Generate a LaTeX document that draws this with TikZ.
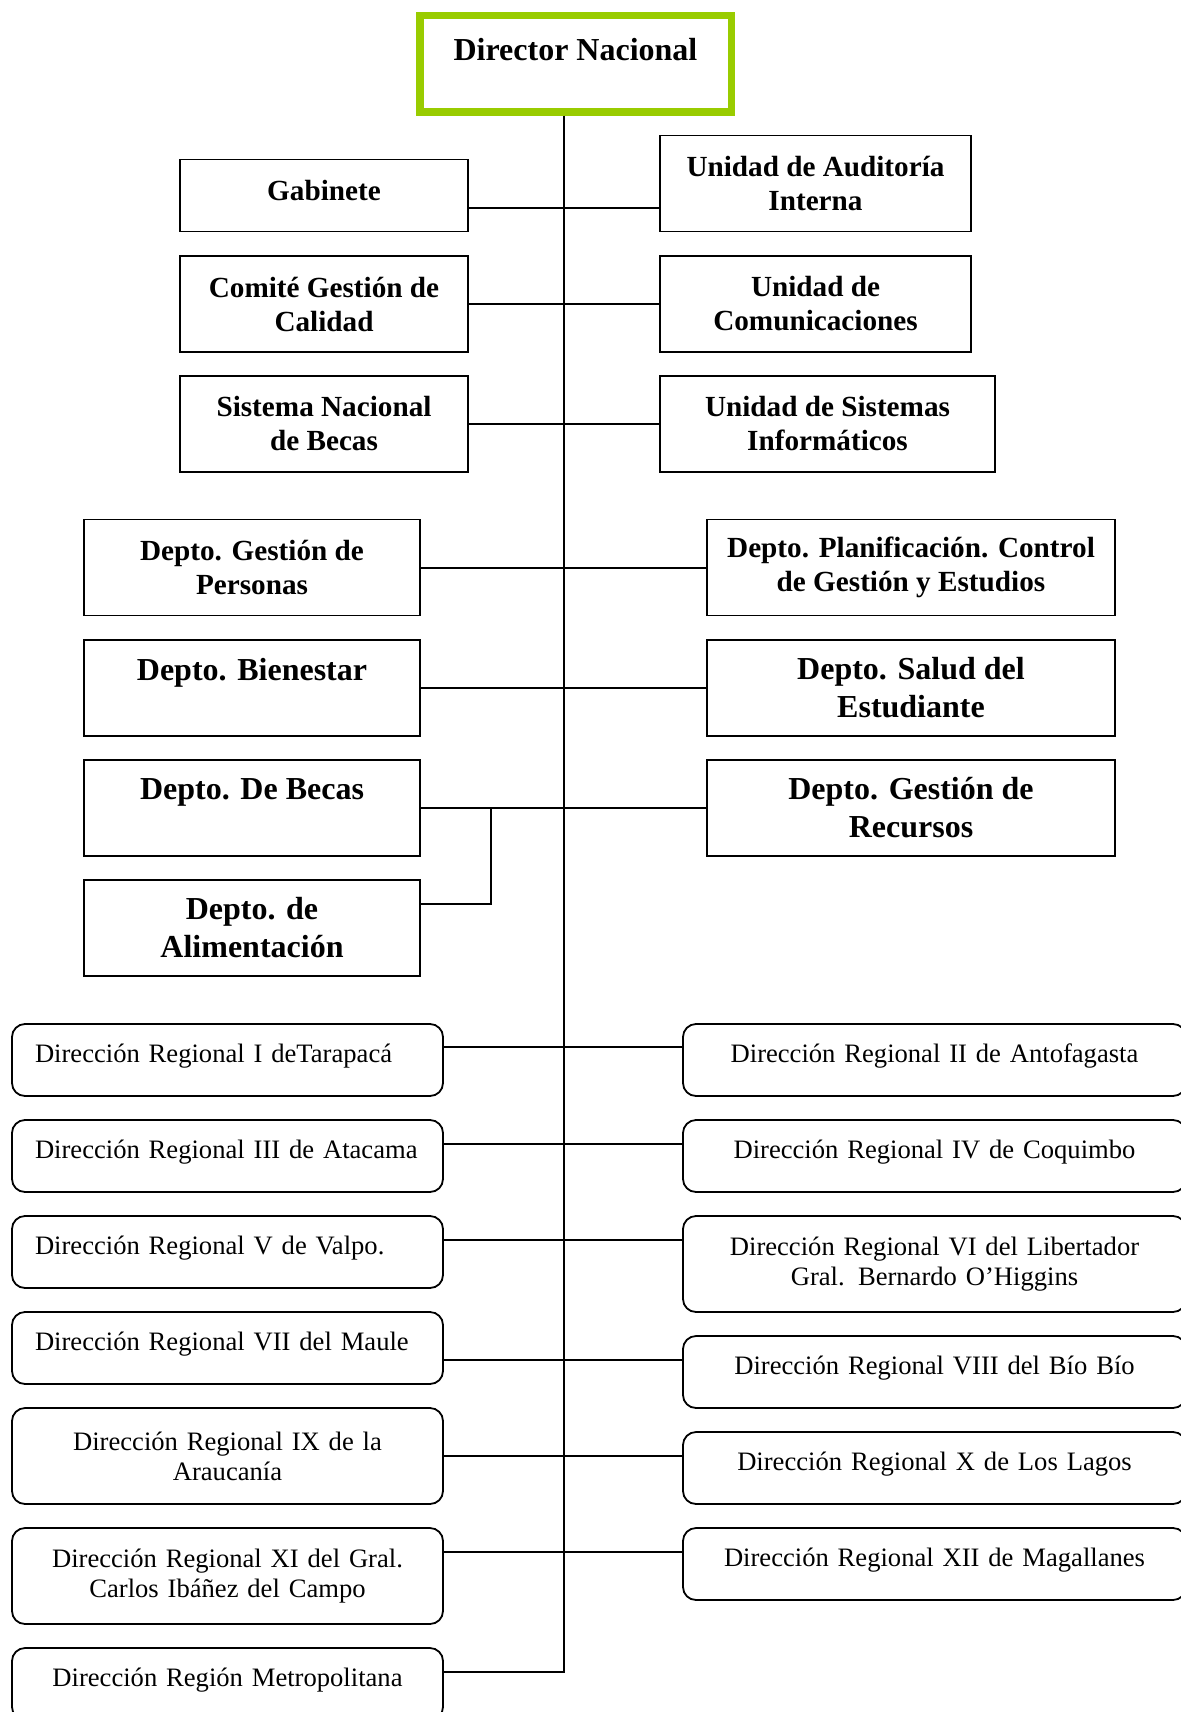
\documentclass[tikz,border=0pt]{standalone}
\usepackage{fontspec}
\setmainfont{Liberation Serif}
\definecolor{dirgreen}{RGB}{153,204,0}

\begin{document}
\begin{tikzpicture}[x=0.5pt,y=-0.5pt,line width=0.8pt]
  \tikzstyle{unit}=[draw,rectangle,line width=0.9pt,align=center,minimum height=48pt,
    font=\bfseries\fontsize{14.6}{17}\selectfont]
  \tikzstyle{dept}=[unit,minimum width=168pt,font=\bfseries\fontsize{16}{19}\selectfont]
  \tikzstyle{region}=[draw,rectangle,rounded corners=6.5pt,line width=0.9pt,minimum height=36pt,
    text width=192.5pt,inner xsep=11.5pt,text depth=7pt,font=\fontsize{13.3}{15}\selectfont]
  \tikzstyle{regright}=[region,text width=231.5pt,inner xsep=10pt,align=center]
  \tikzstyle{twolines}=[minimum height=48pt,text depth=]

  \useasboundingbox (0,0) rectangle (1180,1712);

  \node[unit,draw=dirgreen,line width=3.75pt,minimum width=155.75pt,minimum height=48.25pt,
    font=\bfseries\fontsize{16}{19}\selectfont] (dir) at (575.5,63.75) {Director Nacional\\[-4.4pt]~};

  % staff units
  \node[unit,minimum width=144pt,minimum height=36pt,text depth=5pt] (gab) at (324,195.5) {Gabinete};
  \node[unit,minimum width=155.5pt] (aud)  at (815.5,183.5) {Unidad de Auditoría\\Interna};
  \node[unit,minimum width=144pt]   (com)  at (324,304)     {Comité Gestión de\\Calidad};
  \node[unit,minimum width=155.5pt] (ucom) at (815.5,304)   {Unidad de\\Comunicaciones};
  \node[unit,minimum width=144pt]   (snb)  at (324,424)     {Sistema Nacional\\de Becas};
  \node[unit,minimum width=167.5pt] (usi)  at (827.5,424)   {Unidad de Sistemas\\Informáticos};

  % departments
  \node[unit,minimum width=168pt] (per) at (252,567.5) {Depto. Gestión de\\Personas};
  \node[unit,minimum width=204pt] (pla) at (911,567.5) {Depto. Planificación. Control\\de Gestión y Estudios};
  \node[dept] (bie) at (252,688) {Depto. Bienestar\\~};
  \node[dept,minimum width=204pt] (sal) at (911,688) {Depto. Salud del\\Estudiante};
  \node[dept] (bec) at (252,808) {Depto. De Becas\\~};
  \node[dept,minimum width=204pt] (rec) at (911,808) {Depto. Gestión de\\Recursos};
  \node[dept] (ali) at (252,928) {Depto. de\\Alimentación};

  % regional offices
  \node[region,align=left]   (r1)  at (227.5,1060) {Dirección Regional I deTarapacá};
  \node[regright]            (r2)  at (934.5,1060) {Dirección Regional II de Antofagasta};
  \node[region,align=left]   (r3)  at (227.5,1156) {Dirección Regional III de Atacama};
  \node[regright]            (r4)  at (934.5,1156) {Dirección Regional IV de Coquimbo};
  \node[region,align=left]   (r5)  at (227.5,1252) {Dirección Regional V de Valpo.};
  \node[regright,twolines]   (r6)  at (934.5,1264) {Dirección Regional VI del Libertador\\Gral. Bernardo O’Higgins};
  \node[region,align=left]   (r7)  at (227.5,1348) {Dirección Regional VII del Maule};
  \node[regright]            (r8)  at (934.5,1372) {Dirección Regional VIII del Bío Bío};
  \node[region,align=center,twolines] (r9) at (227.5,1456) {Dirección Regional IX de la\\Araucanía};
  \node[regright]            (r10) at (934.5,1468) {Dirección Regional X de Los Lagos};
  \node[region,align=center,twolines] (r11) at (227.5,1576) {Dirección Regional XI del Gral.\\Carlos Ibáñez del Campo};
  \node[regright]            (r12) at (934.5,1564) {Dirección Regional XII de Magallanes};
  \node[region,align=center] (rm)  at (227.5,1684) {Dirección Región Metropolitana};

  \coordinate (foot) at (564,1672);
  \coordinate (kink) at (491,808);

  \draw (dir.south -| foot) -- (foot) -- (rm.east |- foot);
  \draw (gab.east |- 0,208)  -- (aud.west |- 0,208)
        (com.east |- 0,304)  -- (ucom.west |- 0,304)
        (snb.east |- 0,424)  -- (usi.west |- 0,424)
        (per.east |- 0,568)  -- (pla.west |- 0,568)
        (bie.east |- 0,688)  -- (sal.west |- 0,688)
        (bec.east |- kink)   -- (rec.west |- kink)
        (ali.east |- 0,904)  -| (kink)
        (r1.east |- 0,1047)  -- (r2.west |- 0,1047)
        (r3.east |- 0,1144)  -- (r4.west |- 0,1144)
        (r5.east |- 0,1240)  -- (r6.west |- 0,1240)
        (r7.east |- 0,1360)  -- (r8.west |- 0,1360)
        (r9.east |- 0,1456)  -- (r10.west |- 0,1456)
        (r11.east |- 0,1552) -- (r12.west |- 0,1552)
        ;
\end{tikzpicture}
\end{document}
